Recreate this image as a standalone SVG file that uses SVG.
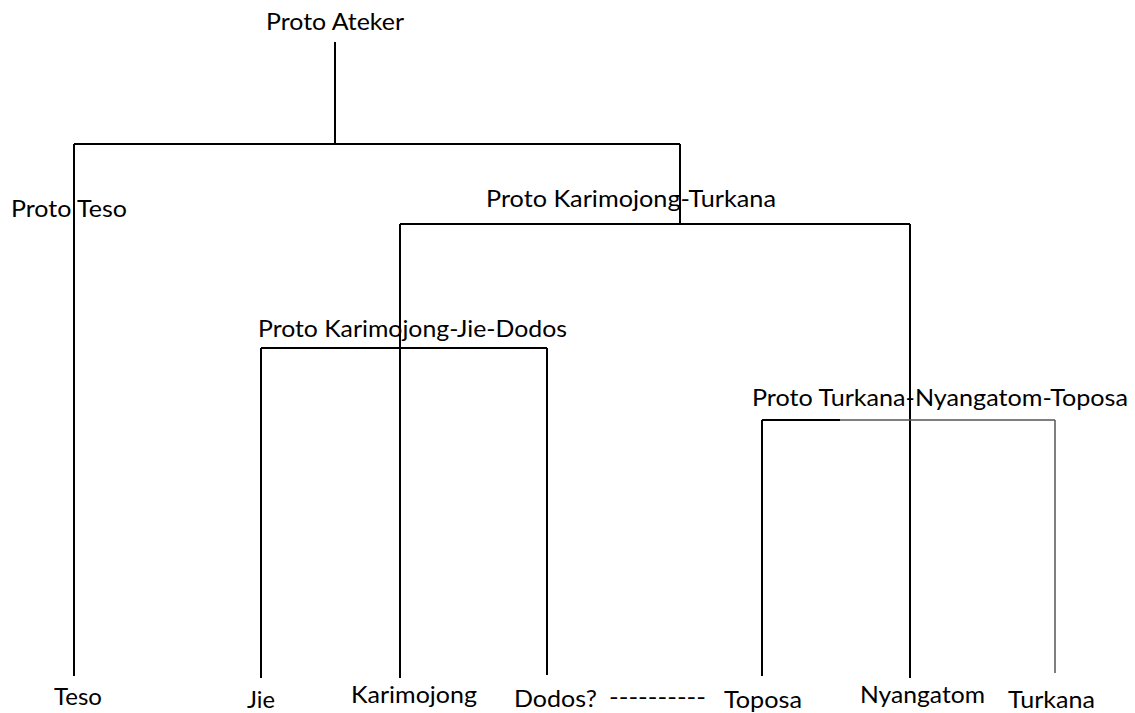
<svg xmlns="http://www.w3.org/2000/svg" width="1135" height="713" viewBox="0 0 1135 713">
<style>
text{font-family:Lato,"Liberation Sans",sans-serif;font-size:23px;fill:#000}
.l{stroke:#000;stroke-width:2;fill:none}
.g{stroke:#555;stroke-width:1.5;fill:none}
</style>
<rect width="1135" height="713" fill="#fff"/>
<g id="connectors">
<path class="l" d="M335 42V144M74 144H680M74 144V676M680 144V224"/>
<path class="l" d="M400 224H910M400 224V678M910 224V678"/>
<path class="l" d="M261 348H547M261 348V678M547 348V675"/>
<path class="l" d="M762 420H840M762 420V676"/>
<path class="g" d="M840 420H1055M1055 420V673"/>
</g>
<g id="n-proto-ateker"><text x="266" y="30" textLength="138" lengthAdjust="spacingAndGlyphs">Proto Ateker</text></g>
<g id="n-proto-teso"><text x="11" y="217" textLength="116" lengthAdjust="spacingAndGlyphs">Proto Teso</text></g>
<g id="n-proto-kt"><text x="486" y="207" textLength="290" lengthAdjust="spacingAndGlyphs">Proto Karimojong-Turkana</text></g>
<g id="n-proto-kjd"><text x="258" y="337" textLength="309" lengthAdjust="spacingAndGlyphs">Proto Karimojong-Jie-Dodos</text></g>
<g id="n-proto-tnt"><text x="752" y="406" textLength="376" lengthAdjust="spacingAndGlyphs">Proto Turkana-Nyangatom-Toposa</text></g>
<g id="n-teso"><text x="54" y="705" textLength="48" lengthAdjust="spacingAndGlyphs">Teso</text></g>
<g id="n-jie"><text x="247" y="708" textLength="28" lengthAdjust="spacingAndGlyphs">Jie</text></g>
<g id="n-karimojong"><text x="351" y="703" textLength="126" lengthAdjust="spacingAndGlyphs">Karimojong</text></g>
<g id="n-dodos"><text x="514" y="707" textLength="83" lengthAdjust="spacingAndGlyphs">Dodos?</text></g>
<g id="dash"><text x="609" y="705" textLength="97" lengthAdjust="spacingAndGlyphs">----------</text></g>
<g id="n-toposa"><text x="724" y="708" textLength="78" lengthAdjust="spacingAndGlyphs">Toposa</text></g>
<g id="n-nyangatom"><text x="860" y="703" textLength="125" lengthAdjust="spacingAndGlyphs">Nyangatom</text></g>
<g id="n-turkana"><text x="1008" y="708" textLength="87" lengthAdjust="spacingAndGlyphs">Turkana</text></g>
</svg>
